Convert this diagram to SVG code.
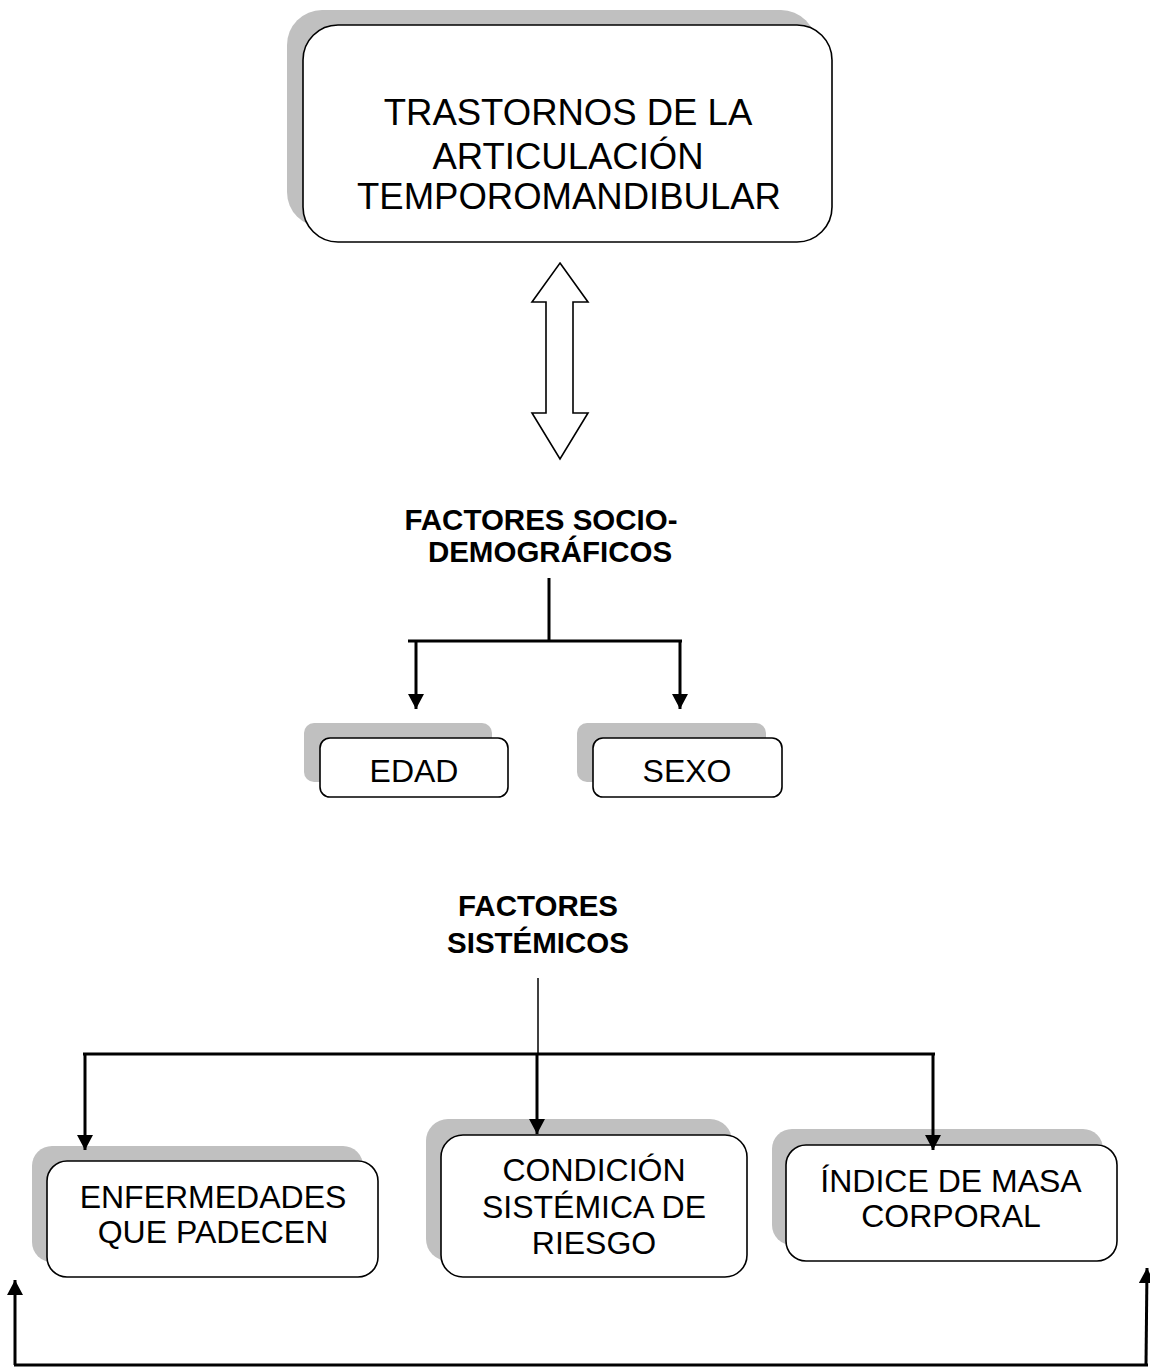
<svg xmlns="http://www.w3.org/2000/svg" width="1150" height="1367" viewBox="0 0 1150 1367">
<defs>
<marker id="ah" viewBox="0 0 15 16" refX="15" refY="8" markerWidth="15" markerHeight="16" orient="auto" markerUnits="userSpaceOnUse">
<path d="M0,0 L15,8 L0,16 z" fill="#000"/>
</marker>
<style>
.shadow{fill:#c0c0c0;stroke:none}
.box{fill:#fff;stroke:#000;stroke-width:1.6}
.t{font-family:"Liberation Sans",Arial,sans-serif;fill:#000;text-anchor:middle}
.title{font-size:36.5px}
.lbl{font-size:32px}
.bold{font-size:29.5px;font-weight:bold}
.c{fill:none;stroke:#000;stroke-width:3}
.ca{fill:none;stroke:#000;stroke-width:3;marker-end:url(#ah)}
</style>
</defs>
<rect width="1150" height="1367" fill="#fff"/>

<g id="node-tatm">
<rect class="shadow" x="287" y="10" width="529" height="217" rx="35"/>
<rect class="box" x="303" y="25" width="529" height="217" rx="35"/>
<text class="t title" x="568" y="125">TRASTORNOS DE LA</text>
<text class="t title" x="568" y="169">ARTICULACIÓN</text>
<text class="t title" x="569" y="209">TEMPOROMANDIBULAR</text>
</g>

<g id="node-double-arrow">
<polygon points="560,263 588,302 573,302 573,413 588,413 560,459 532,413 546,413 546,302 532,302" fill="#fff" stroke="#000" stroke-width="1.6" stroke-linejoin="miter"/>
</g>

<g id="node-socio">
<text class="t bold" x="541" y="530">FACTORES SOCIO-</text>
<text class="t bold" x="550" y="562">DEMOGRÁFICOS</text>
</g>

<g id="node-edad">
<rect class="shadow" x="304" y="723" width="188" height="59" rx="10"/>
<rect class="box" x="320" y="738" width="188" height="59" rx="10"/>
<text class="t lbl" x="414" y="782">EDAD</text>
</g>

<g id="node-sexo">
<rect class="shadow" x="577" y="723" width="189" height="59" rx="10"/>
<rect class="box" x="593" y="738" width="189" height="59" rx="10"/>
<text class="t lbl" x="687" y="782">SEXO</text>
</g>

<g id="node-sistemicos">
<text class="t bold" x="538" y="916">FACTORES</text>
<text class="t bold" x="538" y="953">SISTÉMICOS</text>
</g>

<g id="node-enfermedades">
<rect class="shadow" x="32" y="1146" width="331" height="116" rx="20"/>
<rect class="box" x="47" y="1161" width="331" height="116" rx="20"/>
<text class="t lbl" x="213" y="1208">ENFERMEDADES</text>
<text class="t lbl" x="213" y="1243">QUE PADECEN</text>
</g>

<g id="node-condicion">
<rect class="shadow" x="426" y="1119" width="306" height="142" rx="22"/>
<rect class="box" x="441" y="1135" width="306" height="142" rx="22"/>
<text class="t lbl" x="594" y="1181">CONDICIÓN</text>
<text class="t lbl" x="594" y="1218">SISTÉMICA DE</text>
<text class="t lbl" x="594" y="1254">RIESGO</text>
</g>

<g id="node-imc">
<rect class="shadow" x="772" y="1129" width="331" height="116" rx="20"/>
<rect class="box" x="786" y="1145" width="331" height="116" rx="20"/>
<text class="t lbl" x="951" y="1192">ÍNDICE DE MASA</text>
<text class="t lbl" x="951" y="1227">CORPORAL</text>
</g>

<g id="connectors">
<line class="c" x1="549" y1="578" x2="549" y2="642"/>
<line class="c" x1="408" y1="641" x2="682" y2="641"/>
<line class="ca" x1="416" y1="641" x2="416" y2="709"/>
<line class="ca" x1="680" y1="641" x2="680" y2="709"/>

<line x1="538" y1="978" x2="538" y2="1054" stroke="#000" stroke-width="1.5"/>
<line class="c" x1="83" y1="1054" x2="935" y2="1054"/>
<line class="ca" x1="85" y1="1054" x2="85" y2="1150"/>
<line class="ca" x1="537" y1="1054" x2="537" y2="1134"/>
<line class="ca" x1="933" y1="1054" x2="933" y2="1150"/>

<line class="c" x1="14" y1="1365" x2="1148" y2="1365"/>
<line class="ca" x1="15" y1="1365" x2="15" y2="1280"/>
<line class="ca" x1="1146" y1="1365" x2="1147" y2="1268"/>
</g>
</svg>
